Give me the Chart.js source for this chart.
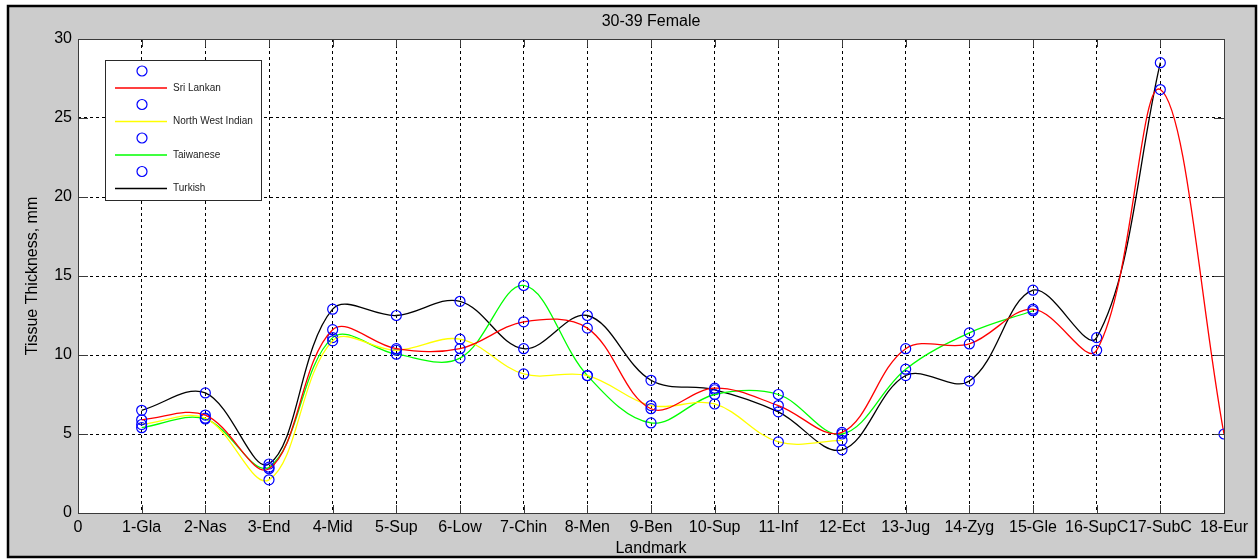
<!DOCTYPE html>
<html>
<head>
<meta charset="utf-8">
<title>30-39 Female</title>
<script src="https://cdn.jsdelivr.net/npm/chart.js@4.4.1/dist/chart.umd.min.js"></script>
<style>
  html, body { margin: 0; padding: 0; background: #ffffff; }
  #wrap { width: 1260px; height: 560px; }
</style>
</head>
<body>
<div id="wrap"><canvas id="chart" width="1260" height="560"></canvas></div>
<script>
// Landmark names along the x axis (position 0 is the bare origin label)
const landmarks = ['0', '1-Gla', '2-Nas', '3-End', '4-Mid', '5-Sup', '6-Low', '7-Chin', '8-Men',
  '9-Ben', '10-Sup', '11-Inf', '12-Ect', '13-Jug', '14-Zyg', '15-Gle', '16-SupC', '17-SubC', '18-Eur'];

// Soft tissue thickness (mm) per landmark, starting at landmark 1
const sriLankan = [5.9, 6.2, 2.8, 11.6, 10.4, 10.4, 12.1, 11.7, 6.6, 7.9, 6.8, 5.1, 10.4, 10.7, 12.9, 10.3, 26.8, 5.0];
const northWestIndian = [5.6, 6.0, 2.1, 10.9, 10.3, 11.0, 8.8, 8.7, 6.8, 6.9, 4.5, 4.6];
const taiwanese = [5.4, 5.95, 2.9, 11.1, 10.05, 9.8, 14.4, 8.7, 5.7, 7.5, 7.5, 5.0, 9.1, 11.4, 12.8];
const turkish = [6.5, 7.6, 3.1, 12.9, 12.5, 13.4, 10.4, 12.5, 8.4, 7.8, 6.4, 4.0, 8.7, 8.35, 14.1, 11.1, 28.5];

const yTicks = [0, 5, 10, 15, 20, 25, 30];

const FONT = "'Liberation Sans', Arial, Helvetica, sans-serif";
Chart.defaults.font.family = FONT;
Chart.defaults.color = '#000000';

function toPoints(values) {
  return values.map((v, i) => ({ x: i + 1, y: v }));
}

function series(label, values, color) {
  return {
    label: label,
    data: toPoints(values),
    borderColor: color,
    borderWidth: 1.3,
    tension: 0.36,
    fill: false,
    pointStyle: 'circle',
    pointRadius: 5,
    pointHoverRadius: 5,
    pointBorderColor: '#0000ff',
    pointBackgroundColor: 'rgba(0,0,0,0)',
    pointBorderWidth: 1.2
  };
}

// Grey figure panel with a black frame, white axes area
const panel = {
  id: 'panel',
  beforeDraw(chart) {
    const { ctx, chartArea: a } = chart;
    ctx.save();
    ctx.fillStyle = '#ffffff';
    ctx.fillRect(0, 0, chart.width, chart.height);
    ctx.fillStyle = '#cccccc';
    ctx.fillRect(8, 6, 1248, 551);
    ctx.strokeStyle = '#000000';
    ctx.lineWidth = 2.5;
    ctx.strokeRect(8, 6, 1248, 551);
    ctx.fillStyle = '#ffffff';
    ctx.fillRect(a.left, a.top, a.right - a.left, a.bottom - a.top);
    ctx.restore();
  },
  afterDraw(chart) {
    const { ctx, chartArea: a, scales } = chart;
    ctx.save();
    ctx.strokeStyle = '#3a3a3a';
    ctx.lineWidth = 1;
    // short inward ticks on all four sides
    ctx.beginPath();
    scales.x.ticks.forEach(t => {
      const px = Math.round(scales.x.getPixelForValue(t.value)) + 0.5;
      ctx.moveTo(px, a.bottom); ctx.lineTo(px, a.bottom - 8);
      ctx.moveTo(px, a.top); ctx.lineTo(px, a.top + 8);
    });
    scales.y.ticks.forEach(t => {
      const py = Math.round(scales.y.getPixelForValue(t.value)) + 0.5;
      ctx.moveTo(a.left, py); ctx.lineTo(a.left + 10, py);
      ctx.moveTo(a.right, py); ctx.lineTo(a.right - 10, py);
    });
    ctx.stroke();
    ctx.strokeRect(Math.round(a.left) + 0.5, Math.round(a.top) + 0.5,
      Math.round(a.right - a.left), Math.round(a.bottom - a.top));
    ctx.restore();
  }
};

// Legend box: a marker row above each line sample
const markerLegend = {
  id: 'markerLegend',
  afterDraw(chart) {
    const { ctx } = chart;
    const box = { x: 105, y: 60, w: 156, h: 140 };
    ctx.save();
    ctx.fillStyle = '#ffffff';
    ctx.fillRect(box.x, box.y, box.w, box.h);
    ctx.strokeStyle = '#2a2a2a';
    ctx.lineWidth = 1;
    ctx.strokeRect(box.x + 0.5, box.y + 0.5, box.w, box.h);
    ctx.font = '10px ' + FONT;
    ctx.textBaseline = 'middle';
    ctx.textAlign = 'left';
    chart.data.datasets.forEach((ds, i) => {
      const cy = 71 + i * 33.5;
      const ly = cy + 17;
      ctx.strokeStyle = '#0000ff';
      ctx.lineWidth = 1.2;
      ctx.beginPath();
      ctx.arc(142, cy, 5, 0, Math.PI * 2);
      ctx.stroke();
      ctx.strokeStyle = ds.borderColor;
      ctx.lineWidth = 1.5;
      ctx.beginPath();
      ctx.moveTo(115, ly); ctx.lineTo(167, ly);
      ctx.stroke();
      ctx.fillStyle = '#222222';
      ctx.fillText(ds.label, 173, ly);
    });
    ctx.restore();
  }
};

new Chart(document.getElementById('chart'), {
  type: 'line',
  data: {
    datasets: [
      series('Sri Lankan', sriLankan, '#ff0000'),
      series('North West Indian', northWestIndian, '#ffff00'),
      series('Taiwanese', taiwanese, '#00ff00'),
      series('Turkish', turkish, '#000000')
    ]
  },
  options: {
    responsive: false,
    animation: false,
    events: [],
    layout: { padding: { top: 0, right: 36, bottom: 0, left: 0 } },
    plugins: {
      legend: { display: false },
      tooltip: { enabled: false },
      title: {
        display: true,
        text: '30-39 Female',
        fullSize: false,
        color: '#000000',
        font: { size: 16, weight: 'normal' },
        padding: { top: 12, bottom: 7.8 }
      }
    },
    scales: {
      x: {
        type: 'linear',
        min: 0,
        max: 18,
        afterFit(scale) { scale.height = 47; },
        afterBuildTicks(scale) {
          scale.ticks = landmarks.map((_, i) => ({ value: i }));
        },
        ticks: {
          autoSkip: false,
          maxRotation: 0,
          minRotation: 0,
          padding: 5,
          color: '#000000',
          font: { size: 16 },
          callback: (v) => landmarks[v]
        },
        grid: { color: '#000000', lineWidth: 1, drawTicks: false },
        border: { display: false, dash: [3, 3] },
        title: {
          display: true,
          text: 'Landmark',
          color: '#000000',
          font: { size: 16 },
          padding: { top: 0, bottom: 1.5 }
        }
      },
      y: {
        type: 'linear',
        min: 0,
        max: 30,
        afterFit(scale) { scale.width = 78; },
        afterBuildTicks(scale) {
          scale.ticks = yTicks.map(v => ({ value: v }));
        },
        ticks: {
          padding: 6,
          color: '#000000',
          font: { size: 16 }
        },
        grid: { color: '#000000', lineWidth: 1, drawTicks: false },
        border: { display: false, dash: [3, 3] },
        title: {
          display: true,
          text: 'Tissue Thickness, mm',
          color: '#000000',
          font: { size: 16 },
          padding: { top: 22.5, bottom: 0 }
        }
      }
    }
  },
  plugins: [panel, markerLegend]
});
</script>
</body>
</html>
